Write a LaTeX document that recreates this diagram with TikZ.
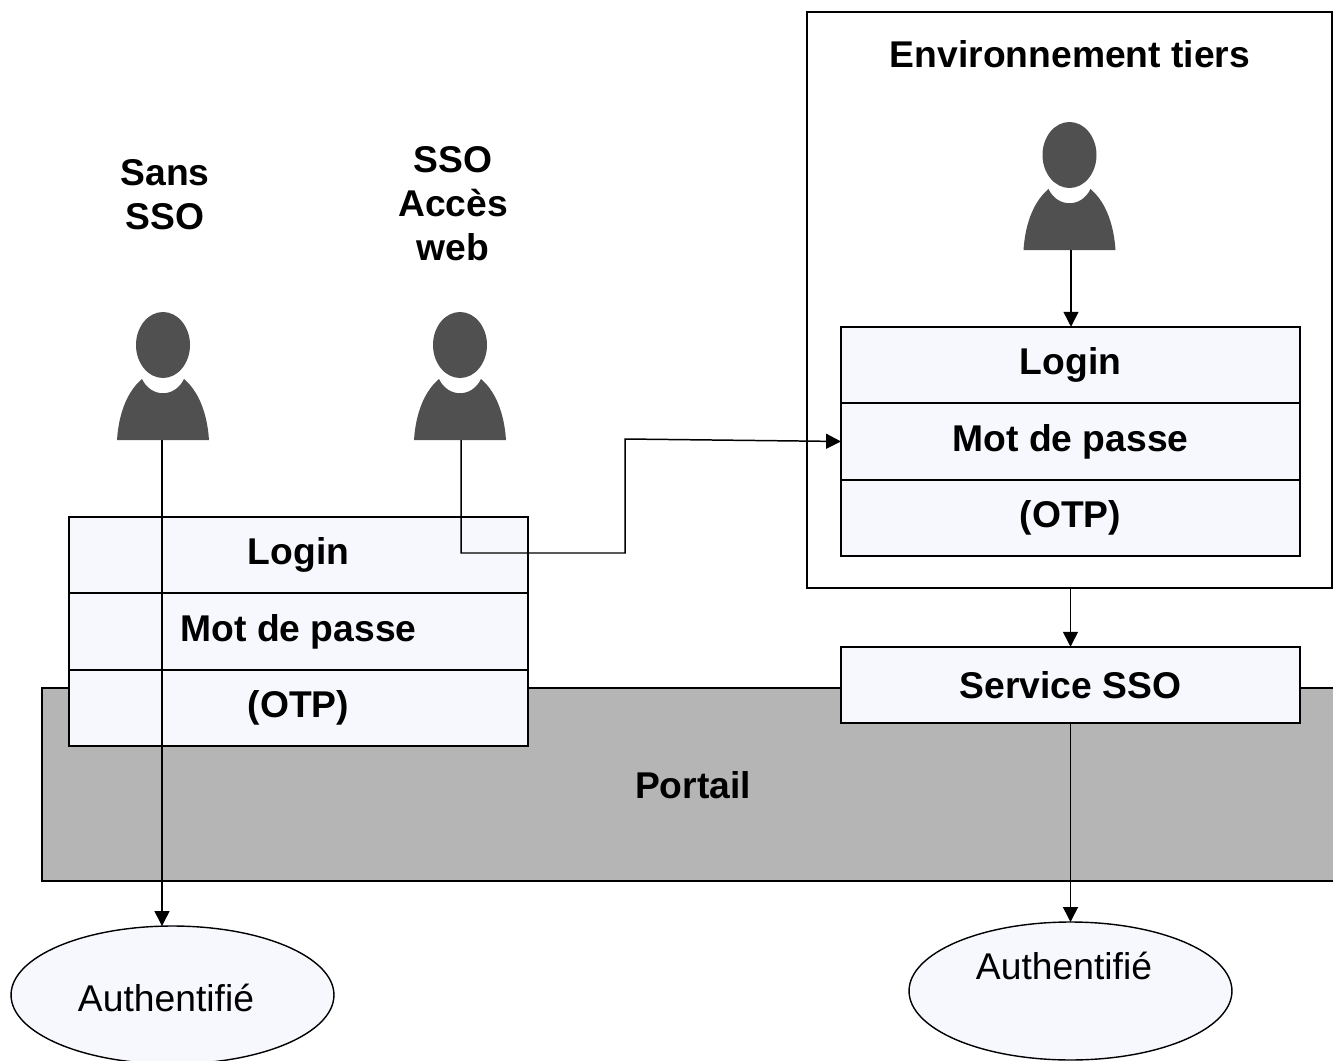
\documentclass[tikz,border=0pt]{standalone}
\usepackage{fontspec}
\setmainfont{Liberation Sans}
\usetikzlibrary{positioning}
\usetikzlibrary{shapes.geometric}
\usetikzlibrary{arrows.meta}
\usepackage{xcolor}
\definecolor{boxfill}{HTML}{F7F8FE}
\definecolor{portalfill}{HTML}{B5B5B5}
\definecolor{personfill}{HTML}{505050}

\begin{document}
\begin{tikzpicture}[
  x=0.02cm, y=-0.02cm,
  font=\fontsize{21.2}{25}\selectfont,
  title/.style={font=\fontsize{21.2}{25}\selectfont\bfseries, align=center, inner sep=0pt},
  rowbox/.style={
    draw, fill=boxfill, line width=0.9pt,
    font=\fontsize{21.2}{25}\selectfont\bfseries,
    minimum width=9.18cm, minimum height=1.53cm,
    inner sep=0pt, outer sep=0pt
  },
  outer/.style={draw, line width=0.9pt, fill=white, minimum width=10.5cm, minimum height=11.52cm, inner sep=0pt, outer sep=0pt},
  portal/.style={draw, line width=0.9pt, fill=portalfill, minimum width=26.2cm, minimum height=3.86cm, inner sep=0pt, outer sep=0pt},
  state/.style={draw, line width=0.8pt, fill=boxfill, ellipse, minimum width=6.46cm, minimum height=2.76cm, inner sep=0pt, outer sep=0pt},
  lab/.style={inner sep=0pt},
  arrow/.style={-{Triangle[length=8.5pt,width=8.5pt]}, line width=0.85pt},
  link/.style={line width=0.85pt},
  person/.pic={
    \fill[personfill] (0,-95) ellipse [x radius=27, y radius=33];
    \fill[personfill] (-46,0) .. controls (-44,-30) and (-34,-50) .. (-21,-61)
      .. controls (-12,-42) and (12,-42) .. (21,-61)
      .. controls (34,-50) and (44,-30) .. (46,0) -- cycle;
  }
]
\useasboundingbox (0,0) rectangle (1333,1061);
\clip (0,0) rectangle (1333,1061);
\fill[white] (0,0) rectangle (1333,1061);

% --- Portal band and third-party frame ---
\node[portal, anchor=north west] (P) at (42,688) {};
\node[font=\fontsize{21.2}{25}\selectfont\bfseries, lab] (Pt) at (693,785) {Portail};
\node[outer, anchor=north west] (E) at (807,12) {};
\node[title] (Et) at (1070,54) {Environnement tiers};

% --- Column titles ---
\node[title] (T1) at (165,195) {Sans\\SSO};
\node[title] (T2) at (453,204) {SSO\\Accès\\web};

% --- Users ---
\pic at (163,440) {person};
\pic at (460,440) {person};
\pic at (1069.5,250) {person};
\coordinate (foot1) at (162,440);
\coordinate (foot2) at (461,440);
\coordinate (foot3) at (1071,250);

% --- Credentials, left ---
\node[rowbox] (L1) at (298.5,555) {Login};
\node[rowbox, below=0pt of L1] (M1) {Mot de passe};
\node[rowbox, below=0pt of M1] (O1) {(OTP)};

% --- Credentials, right ---
\node[rowbox] (L2) at (1070.5,365) {Login};
\node[rowbox, below=0pt of L2] (M2) {Mot de passe};
\node[rowbox, below=0pt of M2] (O2) {(OTP)};

\node[rowbox] (S) at (1070.5,685) {Service SSO};

% --- Outcomes ---
\node[state] (A1) at (172.5,995) {};
\node[lab] (A1t) at (166,998) {Authentifié};
\node[state] (A2) at (1070.5,991) {};
\node[lab] (A2t) at (1064,966) {Authentifié};

% --- Connectors ---
\coordinate (bend1) at (625,553);
\coordinate (bend2) at (625,439);
\draw[arrow] (foot1) -- (foot1 |- A1.north);
\draw[arrow] (foot2) |- (bend1) -- (bend2) -- (M2.west);
\draw[arrow] (foot3) -- (foot3 |- L2.north);
\draw[arrow] (E.south -| S.north) -- (S.north);
\draw[arrow] (S.south) -- (A2.north);

\end{tikzpicture}
\end{document}
